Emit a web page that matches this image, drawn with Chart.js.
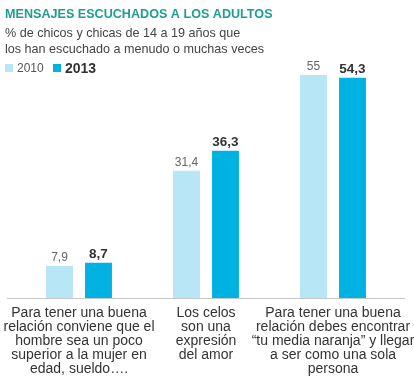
<!DOCTYPE html>
<html>
<head>
<meta charset="utf-8">
<script src="https://cdn.jsdelivr.net/npm/chart.js@4"></script>
<style>
  html, body { margin: 0; padding: 0; background: #fff; }
  #wrap { position: relative; width: 414px; height: 387px; }
</style>
</head>
<body>
<div id="wrap"><canvas id="c" width="414" height="387"></canvas></div>
<script>
const titleText = "MENSAJES ESCUCHADOS A LOS ADULTOS";
const subtitleLines = ["% de chicos y chicas de 14 a 19 años que", "los han escuchado a menudo o muchas veces"];
const categories = [
  ["Para tener una buena", "relación conviene que el", "hombre sea un poco", "superior a la mujer en", "edad, sueldo…."],
  ["Los celos", "son una", "expresión", "del amor"],
  ["Para tener una buena", "relación debes encontrar", "“tu media naranja” y llegar", "a ser como una sola", "persona"]
];
const seriesNames = ["2010", "2013"];
const values2010 = [7.9, 31.4, 55];
const values2013 = [8.7, 36.3, 54.3];

const LIGHT = "#b7e6f6";
const DARK = "#00b2e2";
const FONT = "'Liberation Sans', Arial, sans-serif";

const fmt = v => v.toString().replace(".", ",");

const headerPlugin = {
  id: "header",
  afterDraw(chart) {
    const ctx = chart.ctx;
    ctx.save();
    ctx.textBaseline = "alphabetic";
    ctx.textAlign = "left";
    ctx.fillStyle = "#1e9e8c";
    ctx.font = "bold 12.6px " + FONT;
    ctx.fillText(titleText, 5, 18);
    ctx.fillStyle = "#444";
    ctx.font = "12.6px " + FONT;
    ctx.fillText(subtitleLines[0], 5, 37);
    ctx.fillText(subtitleLines[1], 5, 53);
    // legend
    const ds = chart.data.datasets;
    ctx.fillStyle = ds[0].backgroundColor;
    ctx.fillRect(5, 64, 8, 8);
    ctx.fillStyle = "#555";
    ctx.font = "12px " + FONT;
    ctx.fillText(ds[0].label, 17, 72);
    ctx.fillStyle = ds[1].backgroundColor;
    ctx.fillRect(53, 64, 8, 8);
    ctx.fillStyle = "#333";
    ctx.font = "bold 14px " + FONT;
    ctx.fillText(ds[1].label, 65, 73);
    ctx.restore();
  }
};

const barLabelPlugin = {
  id: "barLabels",
  afterDatasetsDraw(chart) {
    const ctx = chart.ctx;
    ctx.save();
    ctx.textAlign = "center";
    ctx.textBaseline = "alphabetic";
    chart.data.datasets.forEach((ds, i) => {
      const meta = chart.getDatasetMeta(i);
      meta.data.forEach((bar, j) => {
        if (i === 0) { ctx.font = "12px " + FONT; ctx.fillStyle = "#666"; }
        else { ctx.font = "bold 13.5px " + FONT; ctx.fillStyle = "#333"; }
        ctx.fillText(fmt(ds.data[j]), bar.x, bar.y - 5);
      });
    });
    // baseline across
    const y = chart.scales.y.getPixelForValue(0);
    ctx.strokeStyle = "#c8c8c8";
    ctx.lineWidth = 1;
    ctx.beginPath();
    ctx.moveTo(7, Math.round(y) + 0.5);
    ctx.lineTo(405, Math.round(y) + 0.5);
    ctx.stroke();
    ctx.restore();
  }
};

new Chart(document.getElementById("c"), {
  type: "bar",
  data: {
    labels: categories,
    datasets: [
      { label: seriesNames[0], data: values2010, backgroundColor: LIGHT },
      { label: seriesNames[1], data: values2013, backgroundColor: DARK }
    ]
  },
  options: {
    responsive: false,
    animation: false,
    layout: { autoPadding: false, padding: { top: 75, left: 15.5, right: 17.5, bottom: 3 } },
    plugins: { legend: { display: false }, tooltip: { enabled: false }, title: { display: false } },
    datasets: { bar: { categoryPercentage: 0.614, barPercentage: 0.69 } },
    scales: {
      x: {
        grid: { display: false, drawTicks: false },
        border: { display: false },
        afterFit(scale) { scale.paddingLeft = 0; scale.paddingRight = 0; },
        ticks: { color: "#333", font: { family: FONT, size: 14, lineHeight: 1.0 }, padding: 8, maxRotation: 0, autoSkip: false }
      },
      y: { display: false, min: 0, max: 55 }
    }
  },
  plugins: [headerPlugin, barLabelPlugin]
});
</script>
</body>
</html>
